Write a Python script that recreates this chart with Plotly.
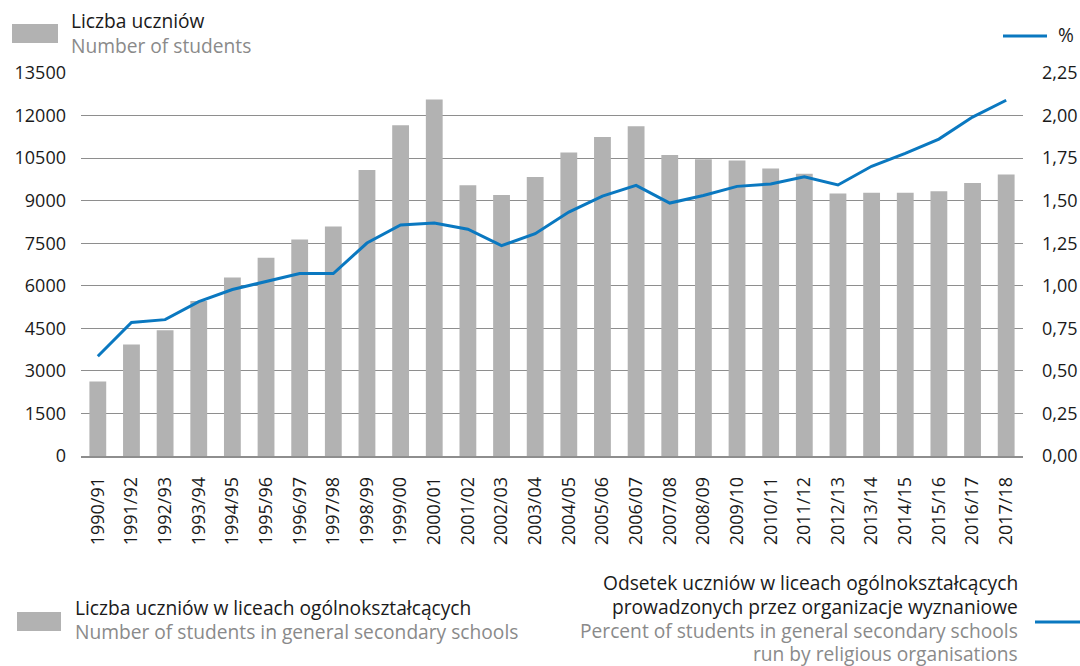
import plotly.graph_objects as go

# school years
years = [
    "1990/91", "1991/92", "1992/93", "1993/94", "1994/95", "1995/96", "1996/97",
    "1997/98", "1998/99", "1999/00", "2000/01", "2001/02", "2002/03", "2003/04",
    "2004/05", "2005/06", "2006/07", "2007/08", "2008/09", "2009/10", "2010/11",
    "2011/12", "2012/13", "2013/14", "2014/15", "2015/16", "2016/17", "2017/18",
]

# number of students (bars, left axis)
students = [
    2630, 3930, 4430, 5460, 6290, 6990, 7630,
    8090, 10080, 11660, 12570, 9540, 9200, 9830,
    10700, 11240, 11620, 10610, 10460, 10420, 10130,
    9950, 9250, 9280, 9280, 9330, 9620, 9920,
]

# percent of students in schools run by religious organisations (line, right axis)
percent = [
    0.586, 0.784, 0.801, 0.907, 0.978, 1.025, 1.072,
    1.072, 1.251, 1.357, 1.369, 1.332, 1.236, 1.306,
    1.433, 1.527, 1.590, 1.486, 1.530, 1.584, 1.598,
    1.641, 1.592, 1.702, 1.778, 1.862, 1.991, 2.090,
]

BAR_COLOR = "#b2b2b2"
LINE_COLOR = "#0a78c0"
GRID_COLOR = "#8e8e8e"
TEXT_BLACK = "#1a1a1a"
TEXT_GREY = "#8a8a8a"
FONT = "Open Sans"
LEGEND_SIZE = 19.2

W, H = 1080, 666
L, R, T, B = 81, 57, 73, 210


def px(x):
    # pixel x -> paper x
    return (x - L) / (W - L - R)


def py(y):
    # pixel y (from top) -> paper y
    return (H - B - y) / (H - T - B)


fig = go.Figure()
fig.add_trace(go.Bar(x=years, y=students, marker_color=BAR_COLOR,
                     marker_line_width=0, name="students"))
fig.add_trace(go.Scatter(x=years, y=percent, yaxis="y2", mode="lines",
                         line=dict(color=LINE_COLOR, width=3), name="percent"))

fig.update_layout(
    width=W, height=H,
    margin=dict(l=L, r=R, t=T, b=B),
    plot_bgcolor="white", paper_bgcolor="white",
    showlegend=False,
    bargap=0.5,
    separators=", ",
    font=dict(family=FONT, size=18, color=TEXT_BLACK),
    xaxis=dict(
        tickangle=-90, showgrid=False, ticks="", ticklabelstandoff=12,
        showline=True, linecolor=GRID_COLOR, linewidth=1.5, automargin=False,
        tickfont=dict(size=18, color=TEXT_BLACK),
    ),
    yaxis=dict(
        range=[0, 13500], dtick=1500, tickformat="d",
        showgrid=True, gridcolor=GRID_COLOR, gridwidth=1, automargin=False,
        zeroline=False, ticks="", ticklabelstandoff=14,
        tickfont=dict(size=18, color=TEXT_BLACK),
    ),
    yaxis2=dict(
        range=[0, 2.25], dtick=0.25, tickformat=".2f",
        overlaying="y", side="right", showgrid=False, zeroline=False,
        ticks="", ticklabelstandoff=18, automargin=False,
        tickfont=dict(size=18, color=TEXT_BLACK),
    ),
)

shapes = []
annotations = []


def swatch_rect(x0, y0, x1, y1):
    shapes.append(dict(type="rect", xref="paper", yref="paper",
                       x0=px(x0), x1=px(x1), y0=py(y1), y1=py(y0),
                       fillcolor=BAR_COLOR, line_width=0))


def swatch_line(x0, x1, y):
    shapes.append(dict(type="line", xref="paper", yref="paper",
                       x0=px(x0), x1=px(x1), y0=py(y), y1=py(y),
                       line=dict(color=LINE_COLOR, width=3)))


def label(x, y, text, color, xanchor="left"):
    annotations.append(dict(xref="paper", yref="paper", x=px(x), y=py(y),
                            text=text, showarrow=False, xanchor=xanchor,
                            yanchor="middle", borderpad=0,
                            font=dict(family=FONT, size=LEGEND_SIZE, color=color)))


# top-left axis legend
swatch_rect(12, 24, 58, 43)
label(70, 21, "Liczba uczniów", TEXT_BLACK)
label(70, 46, "Number of students", TEXT_GREY)

# top-right axis legend
swatch_line(1003, 1047, 36)
label(1057, 35, "%", TEXT_BLACK)

# bottom legend, bars
swatch_rect(17, 612, 61, 631)
label(74, 607, "Liczba uczniów w liceach ogólnokształcących", TEXT_BLACK)
label(74, 631, "Number of students in general secondary schools", TEXT_GREY)

# bottom legend, line (right aligned, one annotation per line)
swatch_line(1035, 1080, 622)
label(1019, 582, "Odsetek uczniów w liceach ogólnokształcących", TEXT_BLACK, "right")
label(1019, 606, "prowadzonych przez organizacje wyznaniowe", TEXT_BLACK, "right")
label(1019, 630, "Percent of students in general secondary schools", TEXT_GREY, "right")
label(1019, 653, "run by religious organisations", TEXT_GREY, "right")

fig.update_layout(shapes=shapes, annotations=annotations)

# drop the default page margin so the figure fills the window exactly
fig.write_html("out.html", config={"displayModeBar": False},
               post_script="document.body.style.margin = '0';")
